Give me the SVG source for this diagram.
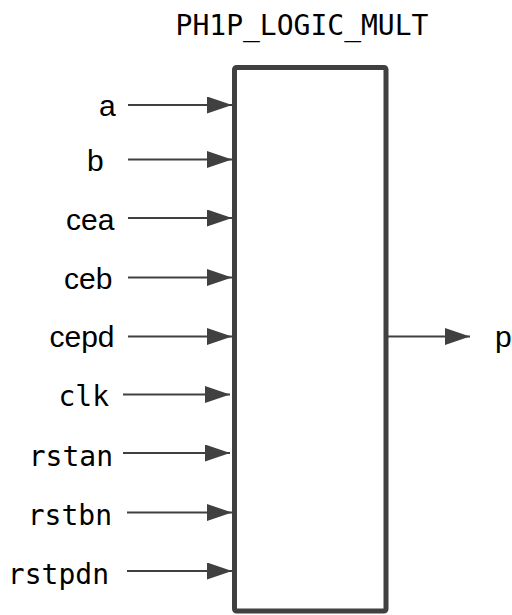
<svg xmlns="http://www.w3.org/2000/svg" width="512" height="615" viewBox="0 0 512 615">
<style>
.sans{font-family:"Liberation Sans",Arial,sans-serif;font-size:30px;fill:#000}
.mono{font-family:"DejaVu Sans Mono","Liberation Mono",monospace;font-size:28px;fill:#000}
.wire{stroke:#404040;stroke-width:2;fill:none;marker-end:url(#ah)}
</style>
<defs>
<marker id="ah" markerUnits="userSpaceOnUse" markerWidth="25" markerHeight="17" refX="25" refY="8.5" orient="auto">
<path d="M0,0 L25,8.5 L0,17 Z" fill="#404040"/>
</marker>
</defs>
<text id="title" class="mono" x="302" y="35" text-anchor="middle">PH1P_LOGIC_MULT</text>
<g id="block">
<rect x="234.5" y="67.5" width="151.5" height="543.5" rx="2" fill="#fff" stroke="#404040" stroke-width="5"/>
</g>
<g id="connectors">
<line class="wire" x1="128" y1="105" x2="232" y2="105"/>
<line class="wire" x1="128" y1="159.5" x2="232" y2="159.5"/>
<line class="wire" x1="128" y1="218" x2="232" y2="218"/>
<line class="wire" x1="128" y1="277.5" x2="232" y2="277.5"/>
<line class="wire" x1="128" y1="336.5" x2="232" y2="336.5"/>
<line class="wire" x1="123" y1="394.5" x2="230" y2="394.5"/>
<line class="wire" x1="123" y1="453" x2="230" y2="453"/>
<line class="wire" x1="127" y1="512.5" x2="232" y2="512.5"/>
<line class="wire" x1="127" y1="571" x2="232" y2="571"/>
<line class="wire" x1="387" y1="336.5" x2="470" y2="336.5"/>
</g>
<g id="port-a"><text class="sans" x="99" y="116">a</text></g>
<g id="port-b"><text class="sans" x="87" y="171">b</text></g>
<g id="port-cea"><text class="sans" x="66" y="230">cea</text></g>
<g id="port-ceb"><text class="sans" x="64" y="289">ceb</text></g>
<g id="port-cepd"><text class="sans" x="49.5" y="347">cepd</text></g>
<g id="port-clk"><text class="mono" x="109" y="406" text-anchor="end">clk</text></g>
<g id="port-rstan"><text class="mono" x="113" y="466" text-anchor="end">rstan</text></g>
<g id="port-rstbn"><text class="mono" x="112" y="525" text-anchor="end">rstbn</text></g>
<g id="port-rstpdn"><text class="mono" x="109" y="584" text-anchor="end">rstpdn</text></g>
<g id="port-p"><text class="sans" x="495" y="347">p</text></g>
</svg>
